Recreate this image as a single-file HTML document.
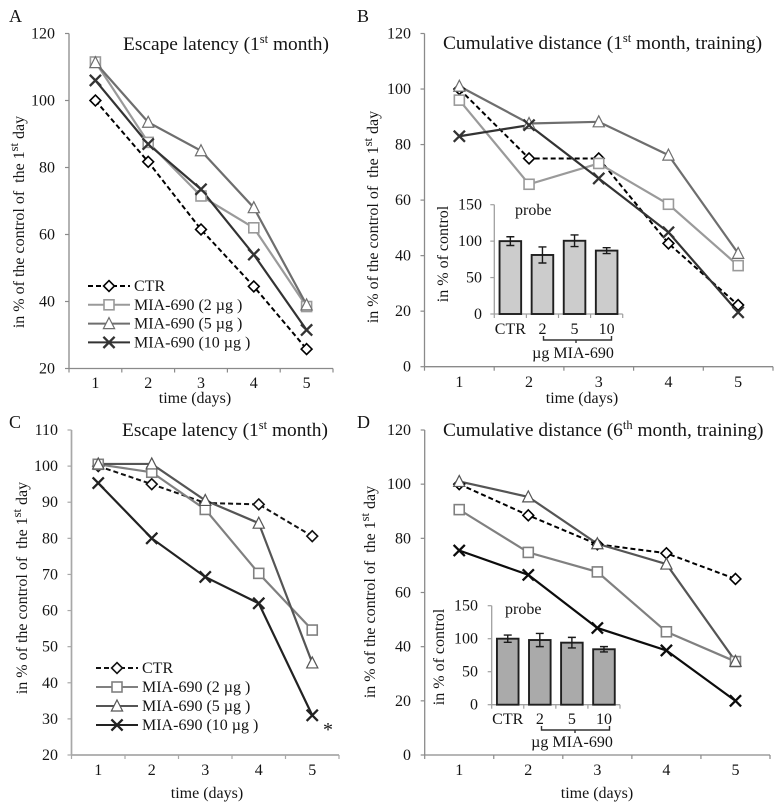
<!DOCTYPE html>
<html lang="en">
<head>
<meta charset="utf-8">
<title>MIA-690 behavioural charts</title>
<style>
html,body{margin:0;padding:0;background:#fff;}
svg{display:block;font-family:"Liberation Serif",serif;fill:#141414;filter:blur(0.3px);}
text{white-space:pre;}
.tick{font-size:16px;}
.title{font-size:19.4px;}
.sup{font-size:12.5px;}
.axis-title{font-size:16px;}
.panel-letter{font-size:18px;}
</style>
</head>
<body>
<svg id="figure" xmlns="http://www.w3.org/2000/svg" width="780" height="804" viewBox="0 0 780 804">
  <rect x="0" y="0" width="780" height="804" fill="#fff"/>

  <text class="panel-letter" x="9" y="22">A</text>
  <text class="panel-letter" x="357" y="22">B</text>
  <text class="panel-letter" x="9" y="428">C</text>
  <text class="panel-letter" x="357" y="428">D</text>

  <text class="title" x="123" y="50">Escape latency (1<tspan class="sup" dy="-7">st</tspan><tspan dy="7"> month)</tspan></text>
  <text class="title" x="443" y="49">Cumulative distance (1<tspan class="sup" dy="-7">st</tspan><tspan dy="7"> month, training)</tspan></text>
  <text class="title" x="122" y="436">Escape latency (1<tspan class="sup" dy="-7">st</tspan><tspan dy="7"> month)</tspan></text>
  <text class="title" x="443" y="436">Cumulative distance (6<tspan class="sup" dy="-7">th</tspan><tspan dy="7"> month, training)</tspan></text>

  <text class="axis-title" text-anchor="middle" transform="translate(24,222) rotate(-90)">in % of the control of  the 1<tspan class="sup" dy="-6">st</tspan><tspan dy="6"> day</tspan></text>
  <text class="axis-title" text-anchor="middle" transform="translate(378,217) rotate(-90)">in % of the control of  the 1<tspan class="sup" dy="-6">st</tspan><tspan dy="6"> day</tspan></text>
  <text class="axis-title" text-anchor="middle" transform="translate(27,588) rotate(-90)">in % of the control of  the 1<tspan class="sup" dy="-6">st</tspan><tspan dy="6"> day</tspan></text>
  <text class="axis-title" text-anchor="middle" transform="translate(375,592) rotate(-90)">in % of the control of  the 1<tspan class="sup" dy="-6">st</tspan><tspan dy="6"> day</tspan></text>

  <text class="axis-title" text-anchor="middle" x="195" y="403">time (days)</text>
  <text class="axis-title" text-anchor="middle" x="582" y="403">time (days)</text>
  <text class="axis-title" text-anchor="middle" x="207" y="798">time (days)</text>
  <text class="axis-title" text-anchor="middle" x="597" y="798">time (days)</text>

  <text x="323" y="736" font-size="20">*</text>

  <text class="tick" x="515" y="215">probe</text>
  <text class="tick" x="505" y="614">probe</text>
  <text class="axis-title" text-anchor="middle" transform="translate(448,254) rotate(-90)">in % of control</text>
  <text class="axis-title" text-anchor="middle" transform="translate(444,657) rotate(-90)">in % of control</text>
  <path d="M543.5 336V340H611.5V336M576 340V343" fill="none" stroke="#333" stroke-width="1.4"/>
  <path d="M541.5 726V730H609.5V726M575 730V733" fill="none" stroke="#333" stroke-width="1.4"/>
  <text class="tick" text-anchor="middle" x="573" y="358">µg MIA-690</text>
  <text class="tick" text-anchor="middle" x="572" y="747">µg MIA-690</text>
</svg>

<script>
// ---- Data ----
const days = ['1', '2', '3', '4', '5'];
const seriesNames = ['CTR', 'MIA-690 (2 µg )', 'MIA-690 (5 µg )', 'MIA-690 (10 µg )'];

const panelACtr = [100, 81.7, 61.5, 44.5, 25.8];
const panelA2ug = [111.5, 87.5, 71.5, 62, 38.5];
const panelA5ug = [111.3, 93.5, 85, 68, 39];
const panelA10ug = [106, 87, 73.5, 54, 31.5];
const panelATicks = [20, 40, 60, 80, 100, 120];

const panelBCtr = [100, 75, 75, 44.4, 22.2];
const panelB2ug = [96, 65.7, 73.2, 58.5, 36.4];
const panelB5ug = [101, 87.6, 88.2, 76.2, 40.8];
const panelB10ug = [83, 87, 67.8, 48.4, 19.6];
const panelBTicks = [0, 20, 40, 60, 80, 100, 120];

const panelCCtr = [100, 95, 89.8, 89.4, 80.6];
const panelC2ug = [100.5, 98.3, 88, 70.3, 54.6];
const panelC5ug = [100.6, 100.6, 90.5, 84.2, 45.5];
const panelC10ug = [95.3, 80, 69.3, 62, 31];
const panelCTicks = [20, 30, 40, 50, 60, 70, 80, 90, 100, 110];

const panelDCtr = [100, 88.5, 77.8, 74.5, 65];
const panelD2ug = [90.6, 74.8, 67.6, 45.5, 34.5];
const panelD5ug = [101, 95.3, 78, 70.5, 34.6];
const panelD10ug = [75.5, 66.5, 46.9, 38.6, 20];
const panelDTicks = [0, 20, 40, 60, 80, 100, 120];

const insetCategories = ['CTR', '2', '5', '10'];
const insetTicks = [0, 50, 100, 150];
const insetBValues = [100, 81, 100.5, 87];
const insetBErrors = [6, 11, 8, 4];
const insetDValues = [100, 98, 94, 84];
const insetDErrors = [5.5, 10, 8, 4];

// ---- Drawing ----
const NS = 'http://www.w3.org/2000/svg';
const svg = document.getElementById('figure');

function make(tag, attrs, text) {
  const el = document.createElementNS(NS, tag);
  for (const k in attrs) el.setAttribute(k, attrs[k]);
  if (text !== undefined) el.textContent = text;
  svg.appendChild(el);
  return el;
}

function drawMarker(kind, cx, cy, color, name) {
  let el;
  if (kind === 0) {
    const r = 5.4;
    el = make('path', {d: `M${cx} ${cy-r}L${cx+r} ${cy}L${cx} ${cy+r}L${cx-r} ${cy}Z`, fill: '#fff', stroke: color, 'stroke-width': 1.6});
  } else if (kind === 1) {
    const r = 5;
    el = make('rect', {x: cx-r, y: cy-r, width: 2*r, height: 2*r, fill: '#fff', stroke: color, 'stroke-width': 1.6});
  } else if (kind === 2) {
    const r = 5.6;
    el = make('path', {d: `M${cx} ${cy-r-0.4}L${cx+r} ${cy+r-0.6}L${cx-r} ${cy+r-0.6}Z`, fill: '#fff', stroke: color, 'stroke-width': 1.2});
  } else {
    const r = 5.6;
    el = make('path', {d: `M${cx-r} ${cy-r}L${cx+r} ${cy+r}M${cx+r} ${cy-r}L${cx-r} ${cy+r}`, fill: 'none', stroke: color, 'stroke-width': 2.3});
  }
  
  
}

function drawAxes(p, id, ticks, labels) {
  const y = v => p.bottom - (v - p.min) / (p.max - p.min) * (p.bottom - p.top);
  const step = (p.right - p.left) / labels.length;
  const yAxis = make('line', {x1: p.left, x2: p.left, y1: p.top, y2: p.bottom, stroke: p.axisColor, 'stroke-width': p.axisWidth});
  
  
  const xAxis = make('line', {x1: p.left, x2: p.right, y1: p.bottom, y2: p.bottom, stroke: p.axisColor, 'stroke-width': p.axisWidth});
  
  
  ticks.forEach(t => {
    const mark = make('line', {x1: p.left - 4, x2: p.left, y1: y(t), y2: y(t), stroke: p.axisColor, 'stroke-width': 1.2});
    
    
    const label = make('text', {class: 'tick', 'text-anchor': 'end', x: p.labelRight, y: y(t) + 5}, String(t));
    
    
  });
  for (let i = 0; i <= labels.length; i++) {
    const xt = p.left + i * step;
    const mark = make('line', {x1: xt, x2: xt, y1: p.bottom, y2: p.bottom + 4, stroke: p.axisColor, 'stroke-width': 1.2});
    
    
  }
  labels.forEach((c, i) => {
    const label = make('text', {class: 'tick', 'text-anchor': 'middle', x: p.left + (i + 0.5) * step + (p.labelShift || 0), y: p.labelBase}, c);
    
    
  });
  return {y, step};
}

function drawLinePanel(p, id, ticks, seriesList, colors) {
  const {y, step} = drawAxes(p, id, ticks, days);
  const x = i => p.left + (i + 0.5) * step;
  seriesList.forEach((vals, s) => {
    const line = make('polyline', {
      points: vals.map((v, i) => x(i) + ',' + y(v)).join(' '),
      fill: 'none', stroke: colors[s], 'stroke-width': s === 0 ? 2 : 2.2,
      'stroke-dasharray': s === 0 ? '5 3' : 'none'
    });
    
    
  });
  seriesList.forEach((vals, s) => {
    vals.forEach((v, i) => drawMarker(s, x(i), y(v), colors[s], id + '-point-s' + s + '-day' + (i + 1)));
  });
}

function drawLegend(l, id, colors) {
  seriesNames.forEach((n, s) => {
    const yy = l.y + s * l.gap;
    const line = make('line', {x1: l.x, x2: l.x + 42, y1: yy, y2: yy, stroke: colors[s], 'stroke-width': 2, 'stroke-dasharray': s === 0 ? '5 3' : 'none'});
    
    
    drawMarker(s, l.x + 21, yy, colors[s], id + '-legend-marker-' + s);
    const label = make('text', {class: 'tick', x: l.x + 46, y: yy + 5}, n);
    
    
  });
}

function drawInset(p, id, values, errors, fill) {
  const {y, step} = drawAxes(p, id, insetTicks, insetCategories);
  values.forEach((v, i) => {
    const cx = p.left + (i + 0.5) * step;
    const bar = make('rect', {x: cx - 10.8, y: y(v), width: 21.6, height: p.bottom - y(v), fill: fill, stroke: '#1f1f1f', 'stroke-width': 1.9});
    
    
    const e = errors[i];
    const err = make('path', {d: `M${cx} ${y(v+e)}V${y(v-e)}M${cx-4} ${y(v+e)}H${cx+4}M${cx-4} ${y(v-e)}H${cx+4}`, fill: 'none', stroke: '#1a1a1a', 'stroke-width': 1.4});
    
    
  });
}

const colorsAB = ['#000000', '#9a9a9a', '#6e6e6e', '#333333'];
const colorsC = ['#111111', '#808080', '#555555', '#222222'];
const colorsD = ['#000000', '#808080', '#555555', '#0c0c0c'];

drawLinePanel({left: 69, right: 333, top: 33.5, bottom: 368.5, min: 20, max: 120, axisColor: '#8a8a8a', axisWidth: 1.3, labelRight: 55, labelBase: 388},
  'panel-a', panelATicks, [panelACtr, panelA2ug, panelA5ug, panelA10ug], colorsAB);
drawLegend({x: 88, y: 286, gap: 18.8}, 'panel-a', colorsAB);

drawLinePanel({left: 424.5, right: 773, top: 33.5, bottom: 366.7, min: 0, max: 120, axisColor: '#8a8a8a', axisWidth: 1.3, labelRight: 411, labelBase: 387},
  'panel-b', panelBTicks, [panelBCtr, panelB2ug, panelB5ug, panelB10ug], colorsAB);

drawLinePanel({left: 71.5, right: 339, top: 430, bottom: 755, min: 20, max: 110, axisColor: '#a8a8a8', axisWidth: 1.7, labelRight: 58, labelBase: 775},
  'panel-c', panelCTicks, [panelCCtr, panelC2ug, panelC5ug, panelC10ug], colorsC);
drawLegend({x: 96, y: 668, gap: 19}, 'panel-c', colorsC);

drawLinePanel({left: 424.7, right: 770, top: 430, bottom: 755, min: 0, max: 120, axisColor: '#8a8a8a', axisWidth: 1.3, labelRight: 411, labelBase: 775},
  'panel-d', panelDTicks, [panelDCtr, panelD2ug, panelD5ug, panelD10ug], colorsD);

drawInset({left: 494.3, right: 622.7, top: 204.7, bottom: 314, min: 0, max: 150, axisColor: '#a0a0a0', axisWidth: 1.3, labelRight: 482, labelBase: 334},
  'inset-b', insetBValues, insetBErrors, '#cccccc');
drawInset({left: 491.7, right: 620, top: 605.7, bottom: 704.7, min: 0, max: 150, axisColor: '#a0a0a0', axisWidth: 1.3, labelRight: 478, labelBase: 724},
  'inset-d', insetDValues, insetDErrors, '#aaaaaa');
</script>
</body>
</html>
